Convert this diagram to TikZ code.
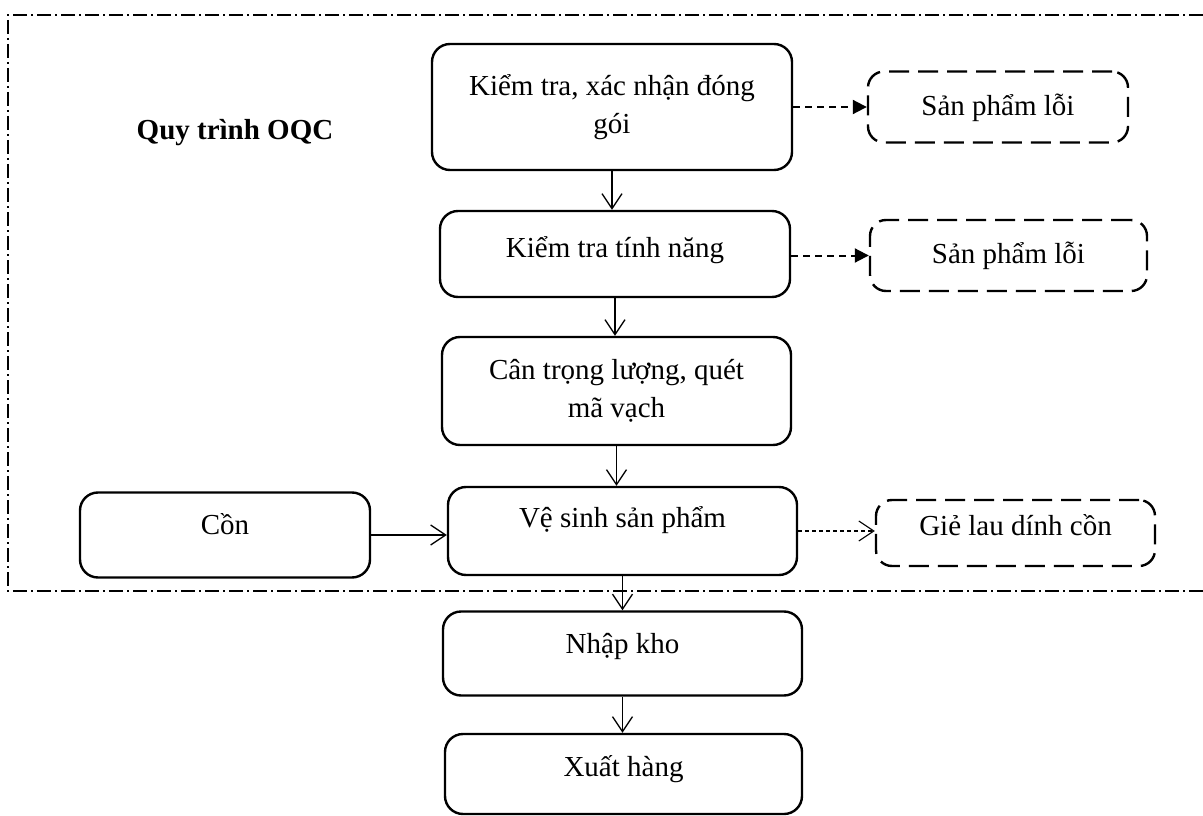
\documentclass[tikz,border=0pt]{standalone}
\usepackage{fontspec}
\setmainfont{Liberation Serif}
\usetikzlibrary{arrows.meta}

\begin{document}
\begin{tikzpicture}[
    x=1pt, y=-1pt,
    every node/.style={font=\fontsize{29}{38}\selectfont},
    box/.style    ={draw, line width=2.4pt, rounded corners=18pt, inner sep=0pt, align=center},
    reject/.style ={box, dash pattern=on 20pt off 9pt, rounded corners=16pt},  % dashed output box
    lift/.style   ={text height={17pt+(#1)}, text depth={17pt-(#1)}},          % baseline below centre
    arr/.style    ={line width=1.3pt, -{Straight Barb[length=15pt, width=20pt]}},
    fail/.style   ={line width=2pt, dash pattern=on 7pt off 5pt, -{Triangle[length=14pt, width=14pt]}},
    waste/.style  ={arr, line width=1.1pt, dash pattern=on 4pt off 3pt},
    frame/.style  ={line width=1.8pt, dash pattern=on 14pt off 4pt on 2pt off 4pt}
  ]
    \useasboundingbox (0,0) rectangle (1203,816);

    % --- OQC frame (open on the right) ---
    \draw[frame] (1203,15) -- (8,15) -- (8,591) -- (1203,591);
    \node[font=\fontsize{29}{38}\selectfont\bfseries] (title) at (235,133) {Quy trình OQC};

    % --- main flow ---
    \node[box, minimum width=360pt, minimum height=126pt] (check) at (612,107)
      {Kiểm tra, xác nhận đóng\\gói};
    \node[box, lift=3pt, minimum width=350pt, minimum height=86pt] (func) at (615,254)
      {Kiểm tra tính năng};
    \node[box, minimum width=349pt, minimum height=108pt] (weigh) at (616.5,391)
      {Cân trọng lượng, quét\\mã vạch};
    \node[box, lift=-3.5pt, minimum width=349pt, minimum height=88pt] (clean) at (622.5,531)
      {Vệ sinh sản phẩm};
    \node[box, lift=0pt, minimum width=359pt, minimum height=84pt] (store) at (622.5,653.5)
      {Nhập kho};
    \node[box, lift=2pt, minimum width=357pt, minimum height=80pt] (ship) at (623.5,774)
      {Xuất hàng};

    % --- inputs and outputs ---
    \node[box, lift=-1pt, minimum width=290pt, minimum height=85pt] (alcohol) at (225,535)
      {Cồn};
    \node[reject, lift=8pt, minimum width=260pt, minimum height=71pt] (defect1) at (998,107)
      {Sản phẩm lỗi};
    \node[reject, lift=7.5pt, minimum width=277pt, minimum height=71pt] (defect2) at (1008.5,255.5)
      {Sản phẩm lỗi};
    \node[reject, lift=2.5pt, minimum width=279pt, minimum height=66pt] (rag) at (1015.5,533)
      {Giẻ lau dính cồn};

    % --- connectors ---
    \draw[arr] (check.south) -- (check.south |- func.north);
    \draw[arr] (func.south)  -- (func.south |- weigh.north);
    \draw[arr] (weigh.south) -- (weigh.south |- clean.north);
    \draw[arr] (clean.south) -- (clean.south |- store.north);
    \draw[arr] (store.south) -- (store.south |- ship.north);
    \draw[arr] (alcohol.east) -- (alcohol.east -| clean.west);
    \draw[fail] (defect1.west -| check.east) -- (defect1.west);
    \draw[fail] (defect2.west -| func.east) -- (defect2.west);
    \draw[waste] (clean.east) -- (clean.east -| rag.west);
\end{tikzpicture}
\end{document}
